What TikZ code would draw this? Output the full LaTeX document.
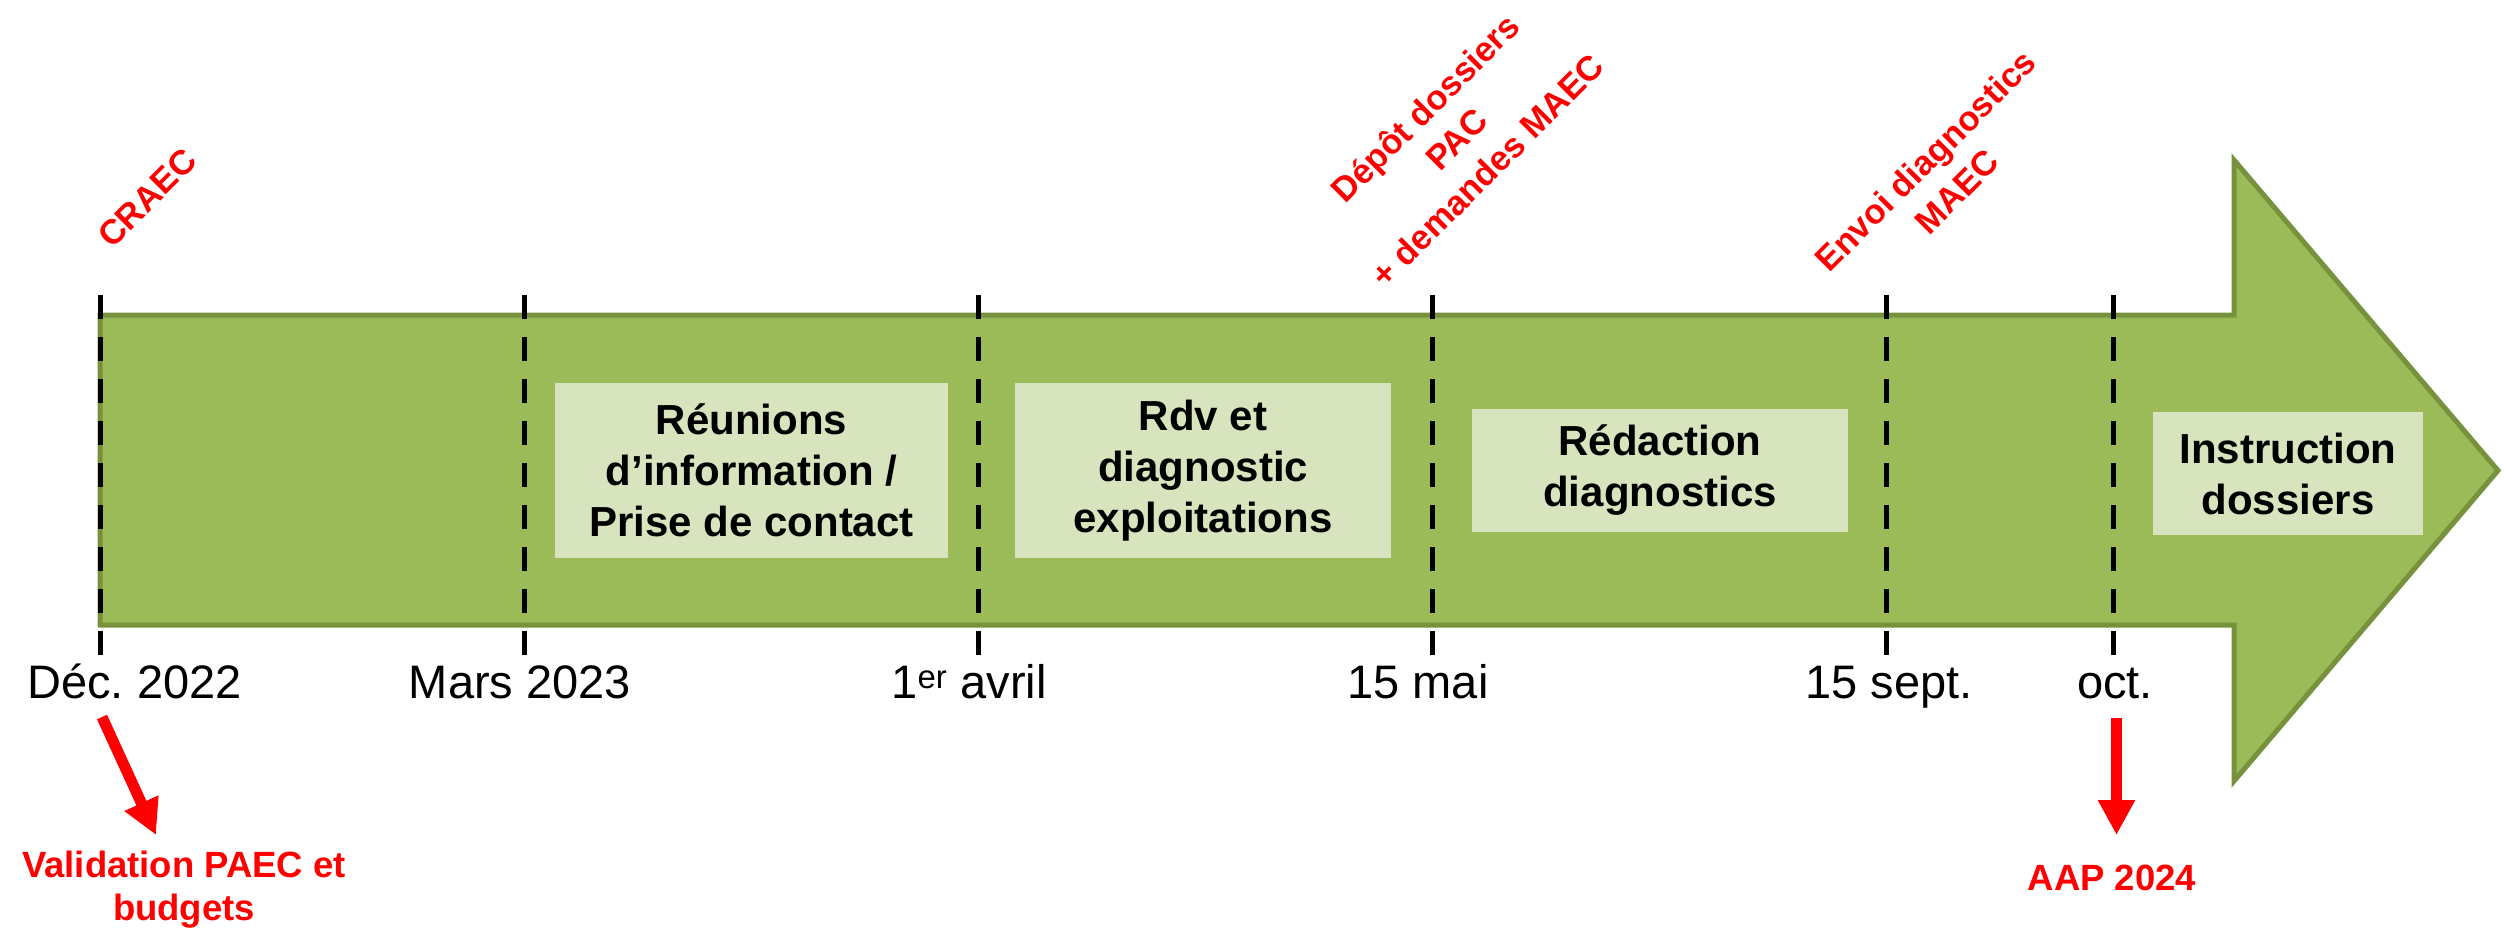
\documentclass[tikz,border=0pt]{standalone}
\usepackage{fontspec}
\setmainfont{Liberation Sans}
\usetikzlibrary{arrows.meta}
\frenchspacing

\definecolor{bodygreen}{HTML}{9BBB59}
\definecolor{edgegreen}{HTML}{76923C}
\definecolor{boxgreen}{HTML}{D7E4BD}
\definecolor{alertred}{HTML}{FF0000}

\tikzset{every picture/.style={line width=0.75pt}}
\tikzset{
  phase/.style={fill=boxgreen, inner sep=0pt, align=center, font=\fontsize{42}{51}\selectfont\bfseries},
  datelabel/.style={anchor=base, font=\fontsize{47}{56}\selectfont},
  tickline/.style={line width=5pt, dash pattern=on 24pt off 18pt},
  redlabel/.style={text=alertred, align=center, font=\fontsize{36.5}{43}\selectfont\bfseries},
  tilted/.style={redlabel, rotate=45, font=\fontsize{34.5}{44}\selectfont\bfseries},
  redarrow/.style={draw=alertred, line width=11pt, -{Triangle[length=35pt,width=35pt]}},
}

\begin{document}
\begin{tikzpicture}[x={(1pt,0pt)}, y={(0pt,-1pt)}]
  \useasboundingbox (0,0) rectangle (2504,934);

  % Flèche
  \draw[fill=bodygreen, draw=edgegreen, line width=5pt]
    (100,315) -- (2234,315) -- (2234,160) -- (2498,470.5) -- (2234,781) -- (2234,625) -- (100,625) -- cycle;

  % Phases
  \node[phase, minimum width=393, minimum height=175] (reunions) at (751.5,470.5) {Réunions\\d’information /\\Prise de contact};
  \node[phase, minimum width=376.5, minimum height=175] (rdv) at (1203,470.5) {Rdv et\\diagnostic\\exploitations};
  \node[phase, minimum width=376, minimum height=123] (redaction) at (1660,470.5) {Rédaction\\diagnostics};
  \node[phase, minimum width=270, minimum height=123] (instruction) at (2288,473.5) {Instruction\\dossiers};

  % Repères
  \foreach \x in {100, 524, 978, 1432, 1886, 2113}
    \draw[tickline] (\x,295) -- (\x,655);

  % Dates
  \foreach \x/\name/\txt in {134.5/dec/{Déc. 2022}, 520/mars/{Mars 2023}, 969/avril/{1\textsuperscript{er} avril},
                             1418/mai/{15 mai}, 1889/sept/{15 sept.}, 2115/oct/{oct.}}
    \node[datelabel] (\name) at (\x,698) {\txt};

  % Événements
  \node[tilted] (craec) at (147,198) {CRAEC};
  \node[tilted] (depot) at (1456,139) {Dépôt dossiers\\PAC\\+ demandes MAEC};
  \node[tilted] (envoi) at (1941,176) {Envoi diagnostics\\MAEC};
  \node[redlabel] (validation) at (184,890) {Validation PAEC et\\budgets};
  \node[redlabel, anchor=base] (aap) at (2112,890) {AAP 2024};

  % Flèches rouges
  \coordinate (decfoot) at (102,717);
  \coordinate (validtip) at (156,835);
  \coordinate (octfoot) at (2116.5,718);
  \coordinate (aaptip) at (2116.5,835);
  \draw[redarrow] (decfoot) -- (validtip);
  \draw[redarrow] (octfoot) -- (aaptip);
\end{tikzpicture}
\end{document}
